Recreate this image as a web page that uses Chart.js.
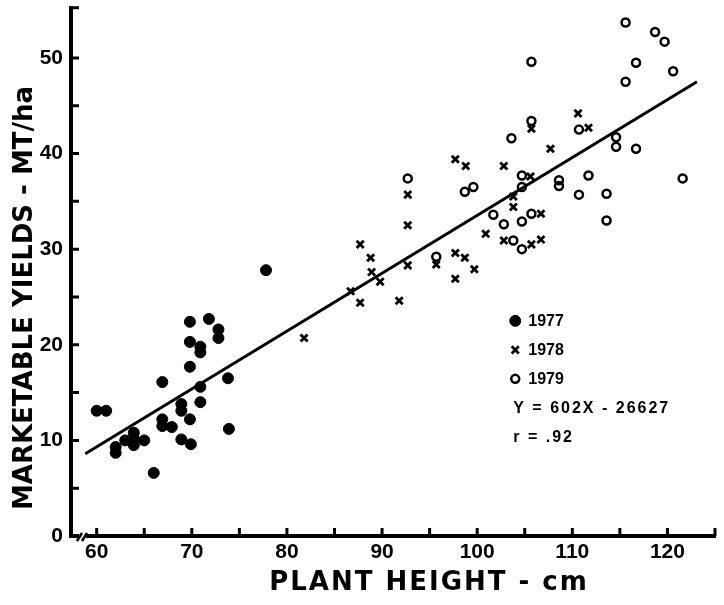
<!DOCTYPE html>
<html>
<head>
<meta charset="utf-8">
<script src="https://cdn.jsdelivr.net/npm/chart.js@4.4.1/dist/chart.umd.min.js"></script>
<style>
  html, body { margin: 0; padding: 0; background: #fff; }
  #wrap { width: 724px; height: 605px; position: relative; }
</style>
</head>
<body>
<div id="wrap"><canvas id="yieldChart"></canvas></div>
<script>
// plant height (cm) vs marketable yield (MT/ha)
const h1977 = [60.0, 61.0, 62.0, 62.0, 63.0, 63.9, 63.9, 63.9, 65.0, 66.0,
               66.9, 66.9, 66.9, 67.9, 68.9, 68.9, 68.9, 69.8, 69.8, 69.8,
               69.8, 69.9, 70.9, 70.9, 70.9, 70.9, 71.8, 72.8, 72.8, 73.8,
               73.9, 77.8];
const y1977 = [13.1, 13.1, 9.3, 8.7, 10.0, 10.8, 10.2, 9.5, 10.0, 6.6,
               16.1, 12.2, 11.5, 11.4, 13.8, 13.1, 10.1, 22.4, 20.3, 17.7,
               12.2, 9.6, 19.8, 19.2, 15.6, 14.0, 22.7, 21.6, 20.7, 16.5,
               11.2, 27.8];

const h1978 = [81.8, 86.7, 87.7, 87.7, 88.8, 88.9, 89.8, 91.8, 92.7, 92.7,
               92.7, 95.7, 97.7, 98.8, 97.7, 97.7, 98.7, 99.7, 100.9, 102.8,
               103.8, 103.8, 102.8, 105.7, 106.7, 106.7, 105.6, 110.6, 111.7, 105.7,
               107.7];
const y1978 = [20.7, 25.6, 30.5, 24.4, 29.1, 27.6, 26.6, 24.6, 35.7, 32.5,
               28.3, 28.4, 39.4, 38.7, 29.6, 26.9, 29.1, 27.9, 31.6, 38.7,
               35.5, 34.4, 30.9, 30.5, 33.7, 31.0, 37.6, 44.2, 42.7, 42.6,
               40.5];

const h1979 = [92.7, 95.7, 98.7, 99.6, 101.7, 102.8, 103.8, 104.7, 104.7, 104.7,
               104.7, 105.7, 115.6, 118.7, 119.7, 105.7, 116.7, 120.6, 115.6, 105.7,
               110.7, 103.6, 114.6, 114.6, 116.7, 108.6, 108.6, 111.7, 110.7, 113.6,
               113.6, 121.6];
const y1979 = [37.4, 29.2, 36.0, 36.5, 33.6, 32.6, 30.9, 37.7, 36.5, 32.9,
               30.0, 33.7, 53.7, 52.7, 51.7, 49.6, 49.5, 48.6, 47.5, 43.4,
               42.5, 41.6, 41.7, 40.7, 40.5, 37.2, 36.6, 37.7, 35.7, 35.8,
               33.0, 37.4];

// regression line ends, as drawn
const fitX = [58.8, 123.1];
const fitY = [8.6, 47.5];

const xTicks = [60, 65, 70, 75, 80, 85, 90, 95, 100, 105, 110, 115, 120, 125];
const yTicks = [0, 5, 10, 15, 20, 25, 30, 35, 40, 45, 50];

const xTitle = 'PLANT HEIGHT - cm';
const yTitle = 'MARKETABLE YIELDS - MT/ha';
const eqnLines = ['Y = 602X - 26627', 'r = .92'];
const legendAt = [104, 22.5];   // data position of first legend row

const INK = '#000';
const toPts = (xs, ys) => xs.map((v, i) => ({ x: v, y: ys[i] }));

// inward ticks, axis break, legend block and axis titles
const decor = {
  id: 'decor',
  afterDraw(chart) {
    const { ctx, chartArea: a, scales: { x, y } } = chart;
    ctx.save();
    ctx.strokeStyle = INK;
    ctx.fillStyle = INK;
    ctx.lineWidth = 3;
    ctx.lineCap = 'butt';

    ctx.beginPath();
    x.ticks.forEach(t => {
      const px = x.getPixelForValue(t.value);
      ctx.moveTo(px, a.bottom); ctx.lineTo(px, a.bottom - 8);
    });
    y.ticks.concat([{ value: y.max }]).forEach(t => {
      const py = y.getPixelForValue(t.value);
      ctx.moveTo(a.left, py); ctx.lineTo(a.left + 8, py);
    });
    ctx.stroke();

    // break in the x axis
    ctx.fillStyle = '#fff';
    ctx.fillRect(a.left + 8, a.bottom - 4, 7, 8);
    ctx.fillStyle = INK;
    ctx.lineWidth = 2.5;
    ctx.beginPath();
    ctx.moveTo(a.left + 6, a.bottom + 5); ctx.lineTo(a.left + 11, a.bottom - 3);
    ctx.moveTo(a.left + 11, a.bottom + 5); ctx.lineTo(a.left + 16, a.bottom - 3);
    ctx.stroke();

    // legend
    const lx = x.getPixelForValue(legendAt[0]);
    const ly = y.getPixelForValue(legendAt[1]);
    const gap = 29;
    ctx.font = 'bold 16px "Liberation Sans"';
    ctx.textBaseline = 'middle';
    ctx.textAlign = 'left';
    chart.data.datasets.slice(0, 3).forEach((ds, i) => {
      const cy = ly + i * gap;
      ctx.save();
      ctx.fillStyle = ds.backgroundColor;
      ctx.strokeStyle = ds.borderColor;
      ctx.lineWidth = ds.pointBorderWidth;
      Chart.helpers.drawPoint(ctx, {
        pointStyle: ds.pointStyle, radius: ds.pointRadius,
        borderWidth: ds.pointBorderWidth, rotation: 0
      }, lx, cy);
      ctx.restore();
      ctx.fillText(ds.label, lx + 13, cy + 1);
    });
    ctx.letterSpacing = '2px';
    eqnLines.forEach((s, i) => {
      ctx.fillText(s, lx - 2, ly + (3 + i) * gap + 1);
    });

    // axis titles
    ctx.font = 'bold 26px "DejaVu Sans"';
    ctx.textAlign = 'center';
    ctx.letterSpacing = '2px';
    ctx.fillText(xTitle, 429, 583);
    ctx.letterSpacing = '0px';
    ctx.translate(25, 298);
    ctx.rotate(-Math.PI / 2);
    ctx.fillText(yTitle, 0, 0);
    ctx.restore();
  }
};

const tickFont = { family: 'Liberation Sans', size: 21, weight: 'bold' };

new Chart(document.getElementById('yieldChart'), {
  type: 'scatter',
  data: {
    datasets: [
      { label: '1977', data: toPts(h1977, y1977), pointStyle: 'circle', pointRadius: 5.5,
        pointBorderWidth: 1, backgroundColor: INK, borderColor: INK },
      { label: '1978', data: toPts(h1978, y1978), pointStyle: 'crossRot', pointRadius: 5,
        pointBorderWidth: 2.8, backgroundColor: INK, borderColor: INK },
      { label: '1979', data: toPts(h1979, y1979), pointStyle: 'circle', pointRadius: 4,
        pointBorderWidth: 2.5, backgroundColor: 'rgba(255,255,255,0)', borderColor: INK },
      { type: 'line', label: 'fit', data: toPts(fitX, fitY), borderColor: INK, borderWidth: 3,
        pointRadius: 0, showLine: true, fill: false }
    ]
  },
  options: {
    responsive: true,
    maintainAspectRatio: false,
    animation: false,
    layout: { padding: { top: 6, right: 9, left: 0, bottom: 0 } },
    plugins: { legend: { display: false }, tooltip: { enabled: false } },
    scales: {
      x: {
        type: 'linear', min: 57.3, max: 125,
        afterBuildTicks: s => { s.ticks = xTicks.map(v => ({ value: v })); },
        afterFit: s => { s.height = 69; s.paddingLeft = 0; s.paddingRight = 0; },
        grid: { display: false, drawTicks: false },
        border: { display: true, color: INK, width: 4 },
        ticks: { autoSkip: false, maxRotation: 0, padding: 4, color: INK, font: tickFont,
                 callback: v => (v % 10 === 0 ? v : '') }
      },
      y: {
        type: 'linear', min: 0, max: 55.24,
        afterBuildTicks: s => { s.ticks = yTicks.map(v => ({ value: v })); },
        afterFit: s => { s.width = 71; s.paddingTop = 0; s.paddingBottom = 0; },
        grid: { display: false, drawTicks: false },
        border: { display: true, color: INK, width: 4 },
        ticks: { autoSkip: false, padding: 8, color: INK, font: tickFont,
                 callback: v => (v % 10 === 0 ? v : '') }
      }
    }
  },
  plugins: [decor]
});
</script>
</body>
</html>
